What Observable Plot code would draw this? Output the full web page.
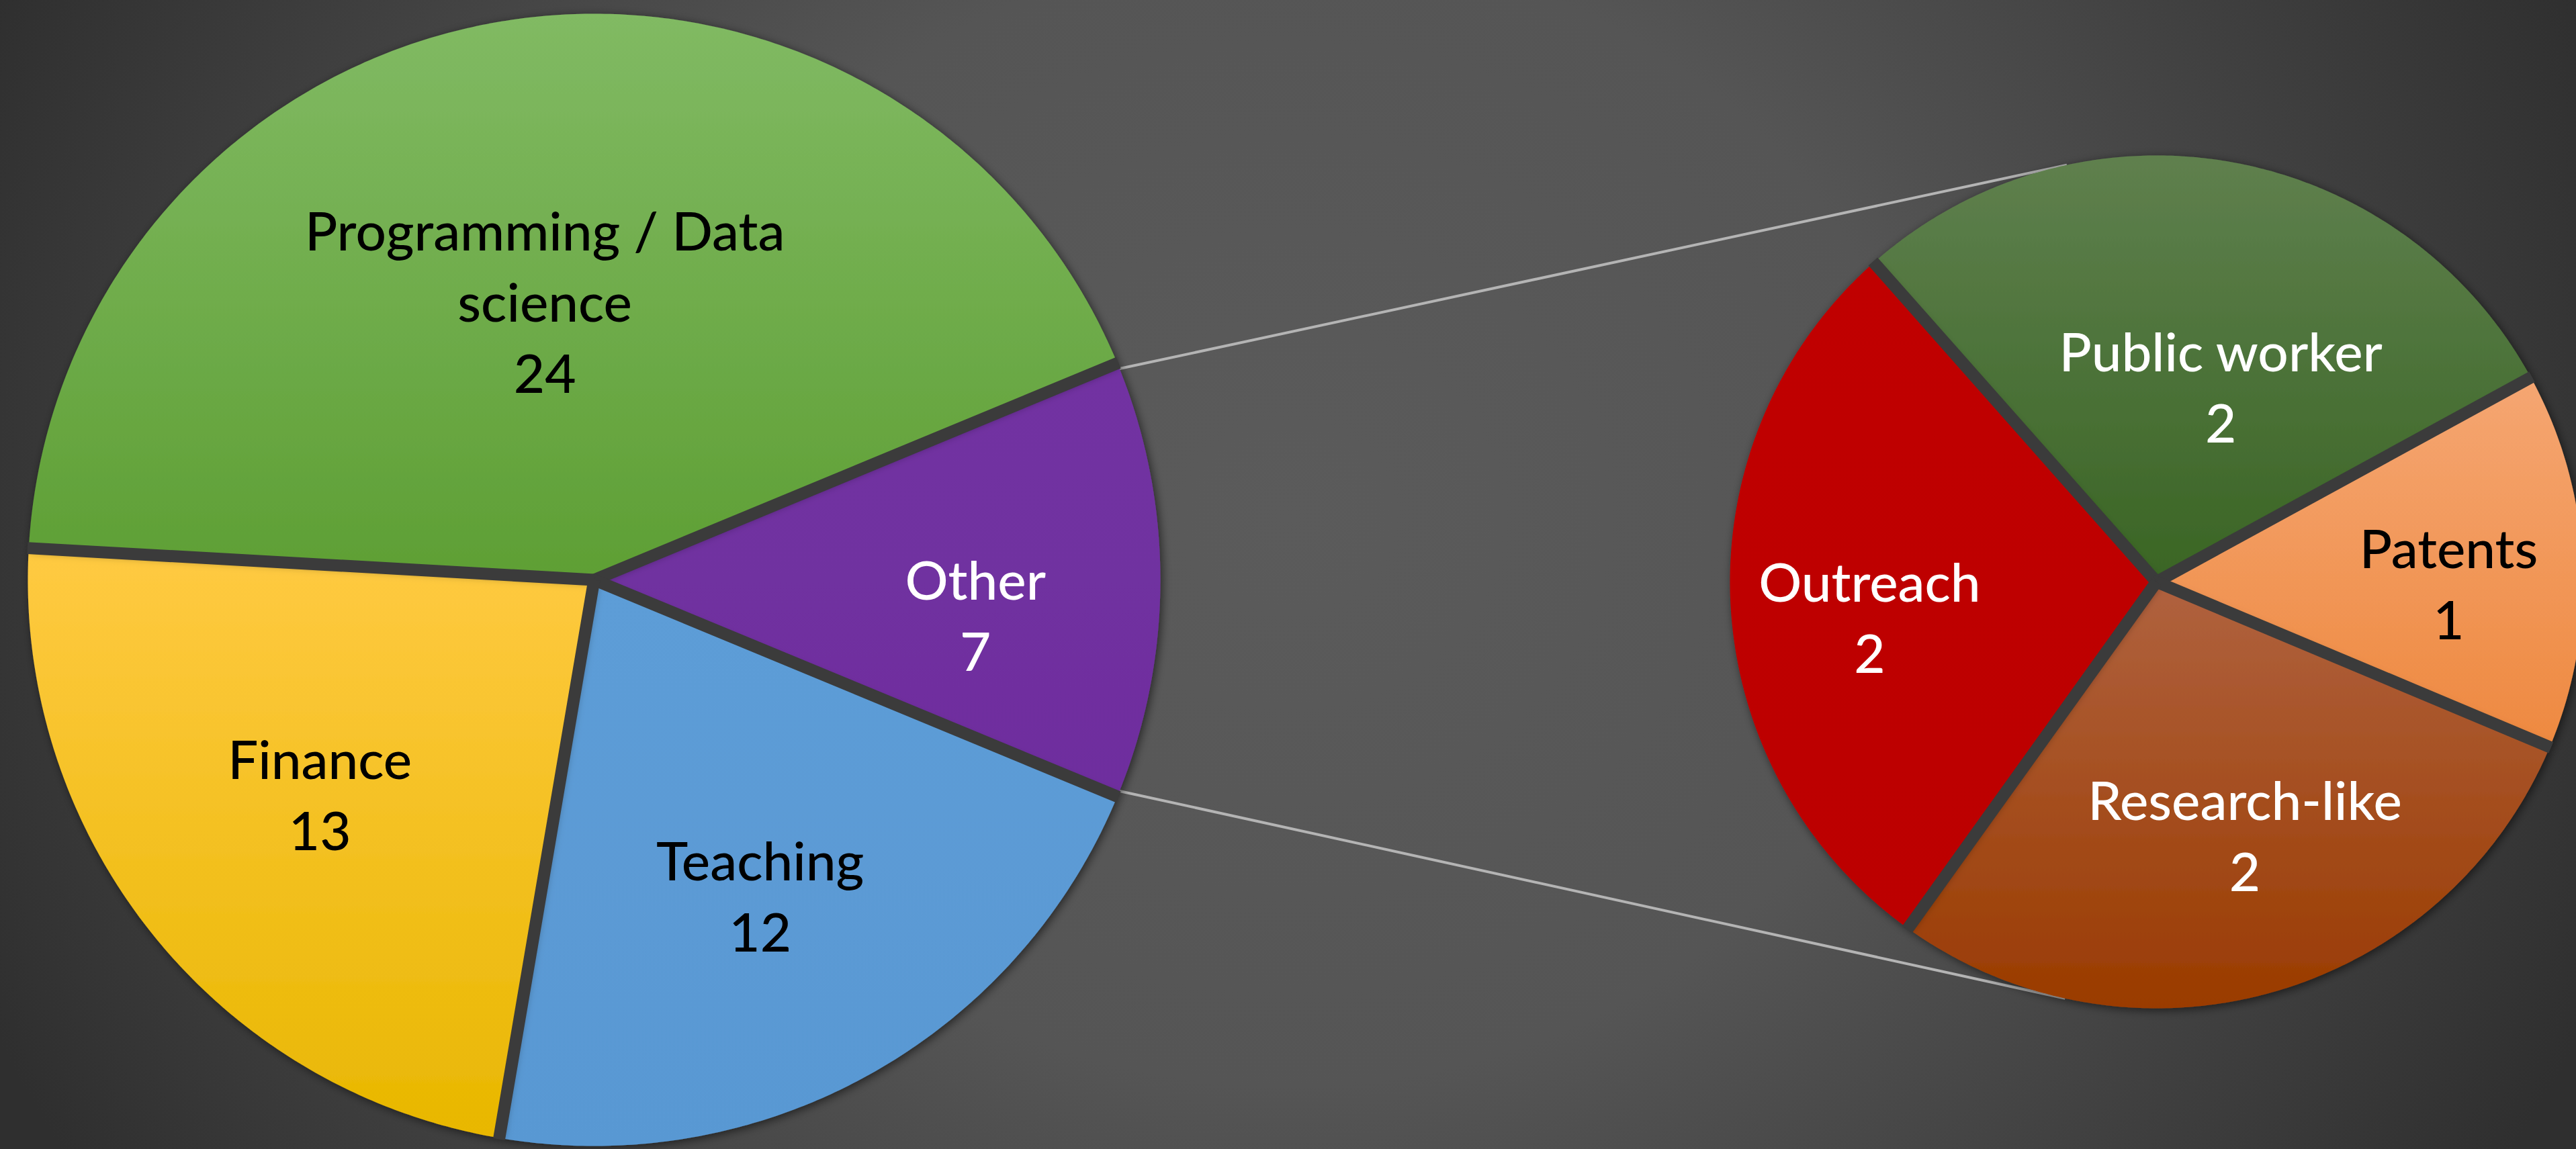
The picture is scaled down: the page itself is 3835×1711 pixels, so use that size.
<!DOCTYPE html>
<html><head><meta charset="utf-8">
<script src="https://cdn.jsdelivr.net/npm/d3@7"></script>
<script src="https://cdn.jsdelivr.net/npm/@observablehq/plot@0.6"></script>
<style>
html,body{margin:0;padding:0;}
body{width:3835px;height:1711px;overflow:hidden;
  background: radial-gradient(ellipse 55% 110% at 50% 45%, #5b5b5b 0%, #555555 45%, #2f2f2f 100%);}
#chart svg{display:block;}
</style></head><body><div id="chart"></div>
<script>
// ---- data ----
const mainCategories = ["Other", "Teaching", "Finance", "Programming / Data science"];
const mainValues = [7, 12, 13, 24];
const subCategories = ["Public worker", "Patents", "Research-like", "Outreach"];
const subValues = [2, 1, 2, 2];

// ---- style / layout ----
const mainColors = [["#7232a2", "#6e2e9e"], ["#5d9dd7", "#5998d3"], ["#ffca42", "#e8b700"], ["#81ba63", "#5e9f34"]];
const subColors = [["#5f804e", "#3a6524"], ["#f5a672", "#ee8940"], ["#b0623f", "#9a3b00"], ["#c00000", "#bc0000"]];
const mainText = ["#ffffff", "#000000", "#000000", "#000000"];
const subText = ["#ffffff", "#000000", "#ffffff", "#ffffff"];
const mainLabelR = [0.676, 0.626, 0.612, 0.504];
const mainLabelDA = [4.9, 1.0, 0.9, -0.3];
const subLabelR = [0.487, 0.685, 0.624, 0.677];
const subLabelDA = [8.1, 2.8, -3.6, -3.6];

const W = 3835, H = 1711, GAP = 18;
const FONT = 80;
const mainPie = {cx: 884, cy: 863, r: 843, start: 67.5};
const subPie = {cx: 3210, cy: 866, r: 635, start: -41.5};

const rad = d => d * Math.PI / 180;

function buildPie(cats, vals, pie, colors, textColors, lr, lda, prefix) {
  const arcs = d3.pie().sort(null).value(d => d)
    .startAngle(rad(pie.start)).endAngle(rad(pie.start) + 2 * Math.PI)(vals);
  return arcs.map((a, i) => {
    const pts = [{x: pie.cx, y: pie.cy}];
    const n = Math.max(8, Math.ceil((a.endAngle - a.startAngle) / rad(0.5)));
    for (let k = 0; k <= n; k++) {
      const t = a.startAngle + (a.endAngle - a.startAngle) * k / n;
      pts.push({x: pie.cx + pie.r * Math.sin(t), y: pie.cy - pie.r * Math.cos(t)});
    }
    const mid = (a.startAngle + a.endAngle) / 2 + rad(lda[i]);
    const t0 = a.startAngle;
    return {
      id: prefix + i, name: cats[i], value: vals[i], arc: a, points: pts, colors: colors[i],
      sep: {x1: pie.cx, y1: pie.cy, x2: pie.cx + (pie.r + 2) * Math.sin(t0), y2: pie.cy - (pie.r + 2) * Math.cos(t0)},
      label: {x: pie.cx + lr[i] * pie.r * Math.sin(mid), y: pie.cy - lr[i] * pie.r * Math.cos(mid),
              text: cats[i].replace("Programming / Data science", "Programming / Data\nscience") + "\n" + vals[i],
              fill: textColors[i]}
    };
  });
}

const mainSlices = buildPie(mainCategories, mainValues, mainPie, mainColors, mainText, mainLabelR, mainLabelDA, "m");
const subSlices = buildPie(subCategories, subValues, subPie, subColors, subText, subLabelR, subLabelDA, "s");

// connectors: tangents from "Other" slice corners to the secondary pie
const other = mainSlices[0].arc;
function tangent(px, py, pick) {
  const dx = px - subPie.cx, dy = py - subPie.cy, d = Math.hypot(dx, dy);
  const base = Math.atan2(dy, dx), phi = Math.acos(subPie.r / d);
  const c = [base + phi, base - phi].map(t => ({x: subPie.cx + subPie.r * Math.cos(t), y: subPie.cy + subPie.r * Math.sin(t)}));
  return pick === "top" ? (c[0].y < c[1].y ? c[0] : c[1]) : (c[0].y > c[1].y ? c[0] : c[1]);
}
const connectors = [[other.startAngle + rad(0.6), "top"], [other.endAngle - rad(0.6), "bottom"]].map(([t, pick]) => {
  const x1 = mainPie.cx + mainPie.r * Math.sin(t), y1 = mainPie.cy - mainPie.r * Math.cos(t);
  const p = tangent(x1, y1, pick);
  return {x1, y1, x2: p.x, y2: p.y};
});

const allSlices = [...mainSlices, ...subSlices];

function defs() {
  const g = d3.create("svg:defs");
  for (const s of allSlices) {
    const lg = g.append("linearGradient").attr("id", s.id).attr("x1", 0).attr("y1", 0).attr("x2", 0).attr("y2", 1);
    lg.append("stop").attr("offset", "0%").attr("stop-color", s.colors[0]);
    lg.append("stop").attr("offset", "100%").attr("stop-color", s.colors[1]);
  }
  const f = g.append("filter").attr("id", "shadow").attr("x", "-10%").attr("y", "-10%").attr("width", "120%").attr("height", "120%");
  f.append("feDropShadow").attr("dx", 3).attr("dy", 3).attr("stdDeviation", 7)
    .attr("flood-color", "#000").attr("flood-opacity", 0.55);
  return g.node();
}

const plot = Plot.plot({
  width: W, height: H, margin: 0,
  x: {domain: [0, W], range: [0, W], axis: null},
  y: {domain: [0, H], range: [0, H], axis: null},
  style: {background: "transparent", overflow: "visible"},
  marks: [
    defs,
    Plot.link(connectors, {x1: "x1", y1: "y1", x2: "x2", y2: "y2", stroke: "#b4b4b4", strokeWidth: 4}),
    ...allSlices.map(s => Plot.line(s.points, {
      x: "x", y: "y", curve: "linear-closed", fill: `url(#${s.id})`, stroke: "none"
    })),
    Plot.link(allSlices.map(s => s.sep), {
      x1: "x1", y1: "y1", x2: "x2", y2: "y2", stroke: "#3b3b3b", strokeWidth: GAP, strokeLinecap: "butt"
    }),
    Plot.text(allSlices.map(s => s.label), {
      x: "x", y: "y", text: "text", fill: "fill", fontSize: FONT, fontFamily: "Lato", fontWeight: 500,
      lineHeight: 106 / FONT, textAnchor: "middle"
    })
  ]
});
plot.querySelectorAll('g[aria-label="line"]').forEach(g => g.setAttribute("filter", "url(#shadow)"));
document.getElementById("chart").appendChild(plot);
</script>
</body></html>
